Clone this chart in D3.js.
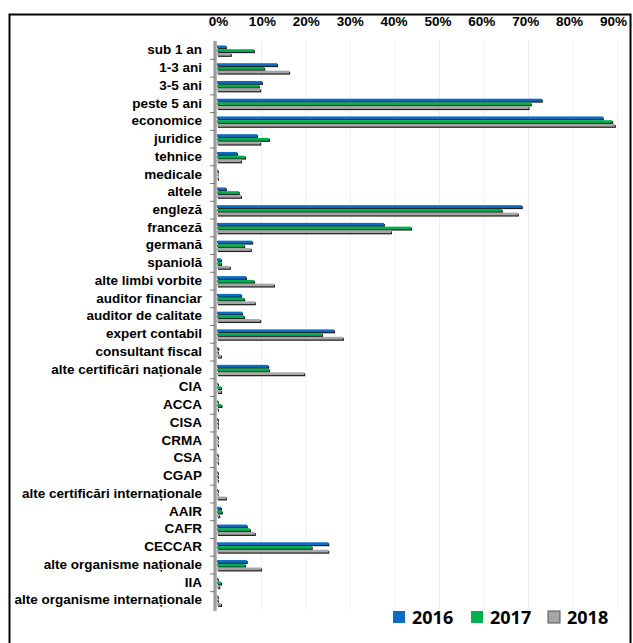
<!DOCTYPE html>
<html><head><meta charset="utf-8">
<script src="https://cdn.jsdelivr.net/npm/d3@7"></script>
<style>
html,body{margin:0;padding:0;background:#fff;}
svg{display:block;}
</style></head>
<body>
<svg id="chart" width="633" height="643"></svg>
<script>
const categories = ["sub 1 an","1-3 ani","3-5 ani","peste 5 ani","economice","juridice","tehnice","medicale","altele","engleză","franceză","germană","spaniolă","alte limbi vorbite","auditor financiar","auditor de calitate","expert contabil","consultant fiscal","alte certificări naționale","CIA","ACCA","CISA","CRMA","CSA","CGAP","alte certificări internaționale","AAIR","CAFR","CECCAR","alte organisme naționale","IIA","alte organisme internaționale"];
const years = ["2016","2017","2018"];
const values2016 = [2.0,13.5,10.1,73.0,86.7,9.0,4.5,0.2,2.0,68.5,37.5,7.9,0.9,6.5,5.4,5.6,26.3,0.3,11.5,0.2,0.2,0.2,0.2,0.2,0.2,0.2,0.9,6.7,25.0,6.7,0.2,0.2];
const values2017 = [8.3,10.6,9.4,70.5,88.8,11.7,6.3,0.1,4.9,64.0,43.6,6.1,0.9,8.3,6.1,6.1,23.6,0.2,11.7,0.9,1.0,0.2,0.1,0.1,0.2,0.1,1.1,7.4,21.3,6.3,0.9,0.2];
const values2018 = [3.1,16.2,9.7,70.0,89.4,9.7,5.4,0.2,5.4,67.6,39.1,7.6,2.9,12.8,8.5,9.7,28.3,0.9,19.6,0.9,0.2,0.2,0.2,0.2,0.2,2.0,0.5,8.5,25.0,9.9,0.5,0.9];
const tickValues = [0,10,20,30,40,50,60,70,80,90];
const colors = ["#0a6cc4","#00b050","#a6a6a6"];

const series = [values2016, values2017, values2018];
const svg = d3.select("#chart");
const FONT = "'Liberation Sans', Arial, sans-serif";

// frame
svg.append("rect").attr("x",9.5).attr("y",14.5).attr("width",621).attr("height",640)
  .attr("fill","none").attr("stroke","#000").attr("stroke-width",2);

const x = d3.scaleLinear().domain([0,90]).range([217, 617.5]);
const xLab = d3.scaleLinear().domain([0,90]).range([218, 613]);
const yCat = d3.scaleBand().domain(categories).range([41.1, 608.9]);
const ySer = d3.scaleBand().domain(years).range([0, 11]).paddingInner(0.05);

// gridlines
svg.append("g").selectAll("line").data(tickValues.slice(1)).join("line")
  .attr("x1",d=>x(d)).attr("x2",d=>x(d)).attr("y1",40).attr("y2",610)
  .attr("stroke","#eceef4").attr("stroke-width",1);

// top axis labels
const topAxis = d3.axisTop(xLab).tickValues(tickValues).tickFormat(d=>d+"%").tickSize(0).tickPadding(0);
const gTop = svg.append("g").attr("transform","translate(0,25.5)").call(topAxis);
gTop.select(".domain").remove();
gTop.selectAll("text").attr("font-family",FONT).attr("font-weight","bold").attr("font-size","13.5px").attr("fill","#000");

// vertical axis line (3D wall edge)
svg.append("line").attr("x1",215.5).attr("x2",215.5).attr("y1",41).attr("y2",611)
  .attr("stroke","#a0a0a0").attr("stroke-width",2.5);
svg.append("line").attr("x1",214).attr("x2",214).attr("y1",41).attr("y2",611)
  .attr("stroke","#6e6e6e").attr("stroke-width",0.8);

// category tick marks
svg.append("g").selectAll("line").data(categories.slice(1)).join("line")
  .attr("x1",210).attr("x2",215).attr("y1",d=>yCat(d)+0.5).attr("y2",d=>yCat(d)+0.5)
  .attr("stroke","#777").attr("stroke-width",1);

// left axis labels
const leftAxis = d3.axisLeft(yCat).tickSize(0).tickPadding(0);
const gLeft = svg.append("g").attr("transform","translate(202,0)").call(leftAxis);
gLeft.select(".domain").remove();
gLeft.selectAll("text").attr("font-family",FONT).attr("font-weight","bold").attr("font-size","13.5px").attr("fill","#000");

// bars
const bh = ySer.bandwidth();
years.forEach((yr, si) => {
  const g = svg.append("g");
  const data = categories.map((c,i)=>({c, v: series[si][i]}));
  const yPos = d => yCat(d.c) + yCat.bandwidth()/2 - 4.5 + ySer(yr);
  // shadow (3D depth)
  g.selectAll("rect.sh").data(data).join("rect").attr("class","sh")
    .attr("x", x(0)+1).attr("y", d=>yPos(d)+1)
    .attr("width", d=>Math.max(0.6, x(d.v)-x(0)))
    .attr("height", bh-0.6)
    .attr("fill","#1f1f1f");
  g.selectAll("rect.b").data(data).join("rect").attr("class","b")
    .attr("x", x(0)).attr("y", d=>yPos(d))
    .attr("width", d=>Math.max(0.6, x(d.v)-x(0)))
    .attr("height", bh-0.8)
    .attr("fill", colors[si]);
});

// legend
const legX = [393, 471, 548];
const lg = svg.append("g");
years.forEach((yr,i)=>{
  lg.append("rect").attr("x",legX[i]).attr("y",611).attr("width",12).attr("height",12)
    .attr("fill",colors[i]).attr("stroke", i===2 ? "#555" : "none").attr("stroke-width",1);
  lg.append("text").attr("x",legX[i]+19).attr("y",623.5).text(yr)
    .attr("font-family","'Open Sans', sans-serif").attr("font-weight","bold").attr("font-size","18px").attr("fill","#000");
});
</script>
</body></html>
